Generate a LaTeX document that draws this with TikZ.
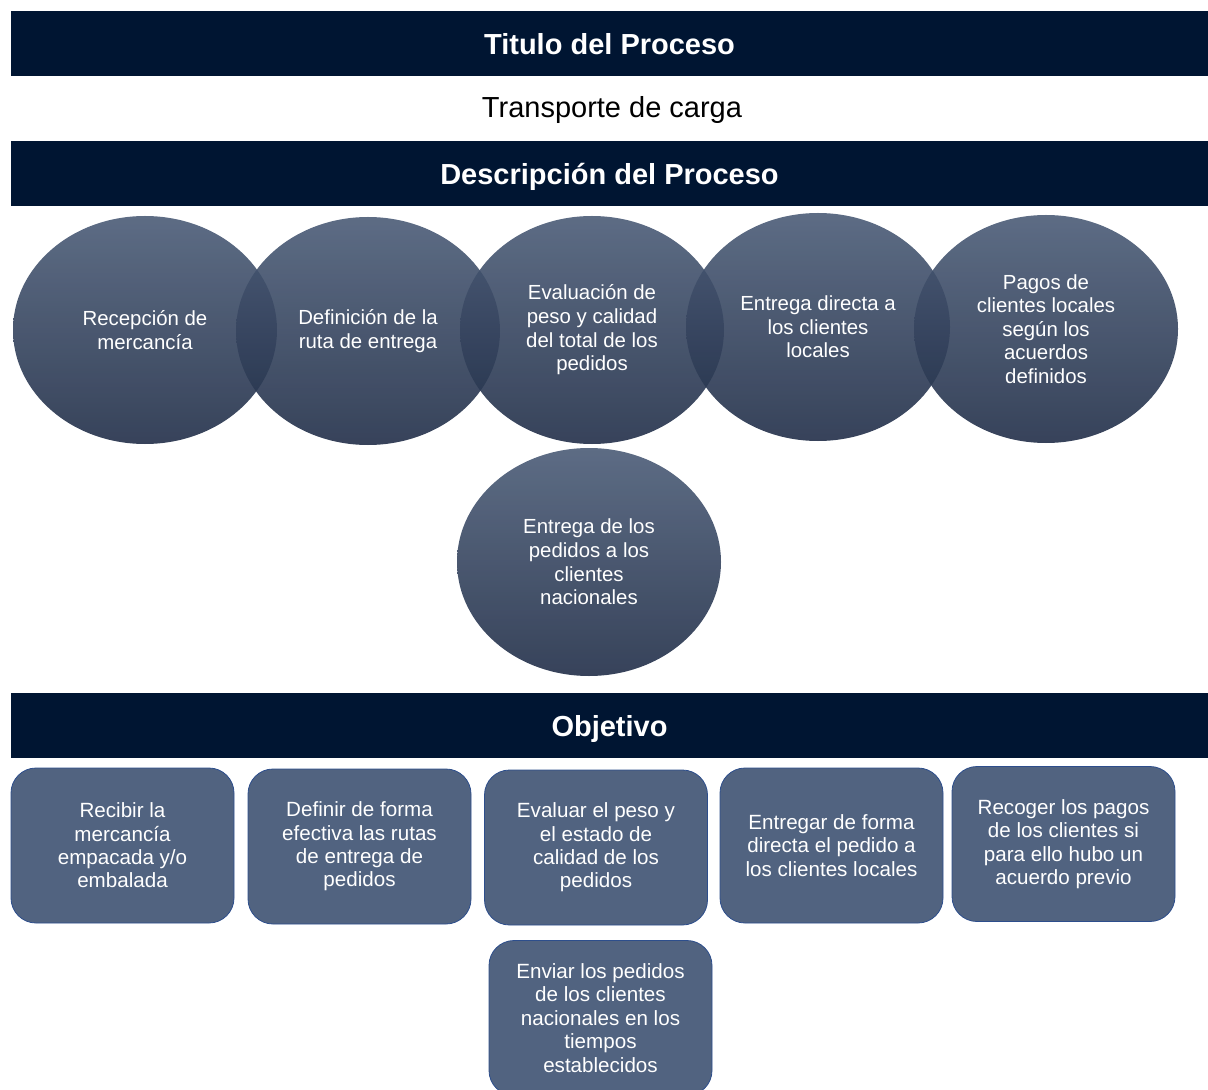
\documentclass[tikz,border=0pt]{standalone}
\usepackage{fontspec}
\setmainfont{Liberation Sans}
\usetikzlibrary{shapes.geometric}
\definecolor{NavyBar}{RGB}{0,21,50}
\definecolor{StageTop}{RGB}{75,92,119}
\definecolor{StageMid}{RGB}{67,83,110}
\definecolor{StageBot}{RGB}{33,46,72}
\definecolor{GoalFill}{RGB}{81,99,128}
\definecolor{GoalLine}{RGB}{45,78,140}
\tikzset{
  bar/.style={fill=NavyBar,text=white,minimum width=598.5pt,minimum height=32.5pt,
    inner sep=0pt,text height=11pt,text depth=0pt,
    font=\fontsize{14.5}{17}\selectfont\bfseries},
  stage/.style={ellipse,minimum width=132pt,minimum height=114pt,inner sep=0pt,
    top color=StageTop,middle color=StageMid,bottom color=StageBot,
    fill opacity=0.9,text opacity=1,text=white,align=center,
    font=\fontsize{10.2}{11.8}\selectfont},
  goal/.style={draw=GoalLine,fill=GoalFill,rounded corners=12.5pt,
    minimum width=111.5pt,minimum height=77.5pt,inner sep=0pt,text=white,
    align=center,font=\fontsize{10.3}{11.7}\selectfont},
}

\begin{document}
\begin{tikzpicture}[x=0.5pt,y=-0.5pt]
\useasboundingbox (0,0) rectangle (1208,1090);
% headers
\node[bar] (titulo) at (609.5,43.5) {Titulo del Proceso};
\node[font=\fontsize{14.5}{17}\selectfont] (proceso) at (612,110.5) {Transporte de carga};
\node[bar] (descripcion) at (609.5,173.5) {Descripción del Proceso};
\node[bar] (objetivo) at (609.5,725) {Objetivo};
% process stages
\node[stage] (s1) at (145,330) {Recepción de\\mercancía};
\node[stage] (s2) at (368,331) {Definición de la\\ruta de entrega};
\node[stage] (s3) at (592,330) {Evaluación de\\peso y calidad\\del total de los\\pedidos};
\node[stage] (s4) at (818,327) {Entrega directa a\\los clientes\\locales};
\node[stage] (s5) at (1046,329) {Pagos de\\clientes locales\\según los\\acuerdos\\definidos};
\node[stage] (s6) at (589,562) {Entrega de los\\pedidos a los\\clientes\\nacionales};
% objectives
\node[goal] (g1) at (122.5,845.5) {Recibir la\\mercancía\\empacada y/o\\embalada};
\node[goal] (g2) at (359.5,846.5) {Definir de forma\\efectiva las rutas\\de entrega de\\pedidos};
\node[goal] (g3) at (596,847.5) {Evaluar el peso y\\el estado de\\calidad de los\\pedidos};
\node[goal] (g4) at (831.5,845.5) {Entregar de forma\\directa el pedido a\\los clientes locales};
\node[goal] (g5) at (1063.5,844) {Recoger los pagos\\de los clientes si\\para ello hubo un\\acuerdo previo};
\node[goal] (g6) at (600.5,1018) {Enviar los pedidos\\de los clientes\\nacionales en los\\tiempos\\establecidos};
\end{tikzpicture}
\end{document}
